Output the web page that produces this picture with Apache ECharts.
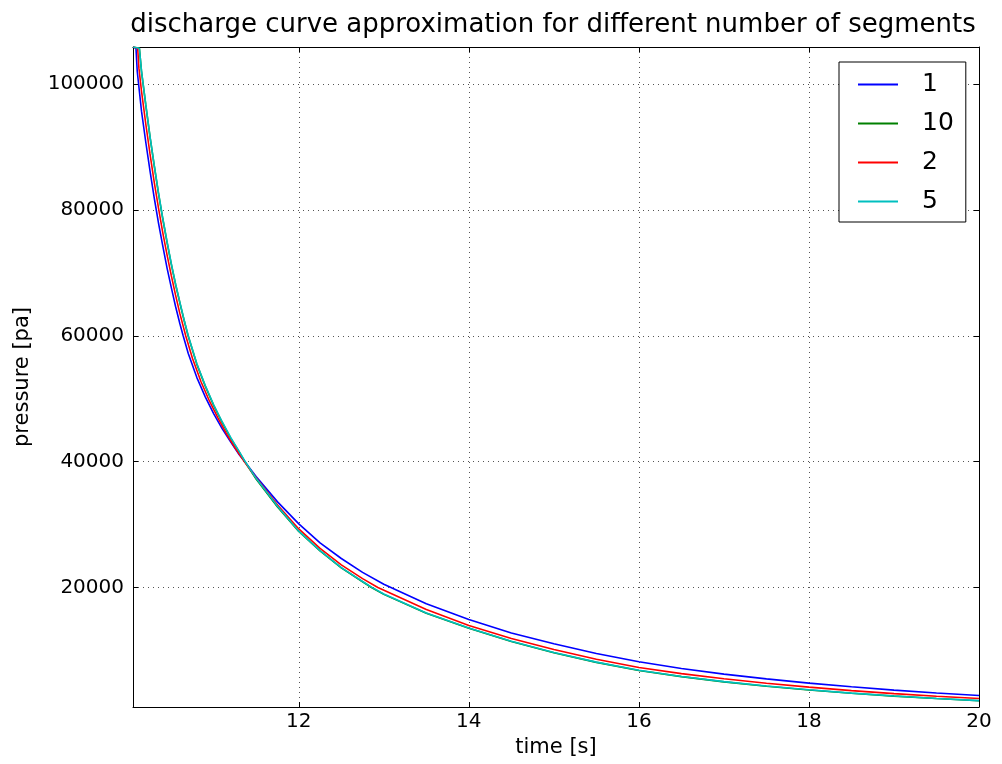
<!DOCTYPE html>
<html>
<head>
<meta charset="utf-8">
<script src="https://cdn.jsdelivr.net/npm/echarts@6/dist/echarts.min.js"></script>
<style>
html,body{margin:0;padding:0;background:#fff;}
#chart{width:1002px;height:764px;}
</style>
</head>
<body>
<div id="chart"></div>
<script>
var chartTitle = 'discharge curve approximation for different number of segments';
var xName = 'time [s]';
var yName = 'pressure [pa]';
var seriesNames = ['1', '10', '2', '5'];
var xTicks = [12, 14, 16, 18, 20];
var yTicks = [20000, 40000, 60000, 80000, 100000];

var t1 = [10.05, 10.085, 10.1, 10.15, 10.2, 10.25, 10.3, 10.35, 10.4, 10.45, 10.5, 10.55, 10.6, 10.64,
  10.7, 10.8, 10.9, 11.0, 11.1, 11.2, 11.3, 11.365, 11.5, 11.75, 12.0, 12.25, 12.5, 12.75, 13.0,
  13.5, 14, 14.5, 15, 15.5, 16, 16.5, 17, 17.5, 18, 18.5, 19, 19.5, 20];
var p1 = [105900, 105700, 102000, 95700, 90800, 86200, 81900, 77900, 74300, 70800, 67700, 64700, 62000, 60000,
  57200, 53400, 50300, 47600, 45200, 43100, 41100, 40000, 37600, 33600, 30100, 27100, 24600, 22400, 20500,
  17400, 14900, 12760, 11040, 9500, 8200, 7120, 6230, 5470, 4800, 4210, 3680, 3230, 2830];

var t10 = [10.05, 10.125, 10.15, 10.2, 10.25, 10.3, 10.35, 10.4, 10.45, 10.5, 10.55, 10.6, 10.65, 10.698,
  10.8, 10.9, 11.0, 11.1, 11.2, 11.3, 11.365, 11.5, 11.75, 12.0, 12.25, 12.5, 12.75, 12.855,
  13.0, 13.5, 14, 14.5, 15, 15.5, 16, 16.5, 17, 17.5, 18, 18.5, 19, 19.5, 20];
var p10 = [105900, 105700, 102000, 96700, 91600, 87000, 82600, 78600, 74900, 71400, 68200, 65300, 62500, 60000,
  55500, 52000, 48900, 46200, 43700, 41500, 40000, 37200, 32800, 28900, 25800, 23100, 20900, 20000,
  18900, 15900, 13500, 11400, 9620, 8090, 6800, 5830, 5000, 4300, 3700, 3180, 2730, 2340, 1990];

var t2 = [10.05, 10.105, 10.12, 10.15, 10.2, 10.25, 10.3, 10.35, 10.4, 10.45, 10.5, 10.55, 10.6, 10.67,
  10.75, 10.85, 10.95, 11.05, 11.15, 11.25, 11.365, 11.5, 11.75, 12.0, 12.25, 12.5, 12.75, 12.93,
  13.5, 14, 14.5, 15, 15.5, 16, 16.5, 17, 17.5, 18, 18.5, 19, 19.5, 20];
var p2 = [105900, 105700, 102500, 98900, 93700, 88900, 84400, 80300, 76400, 72900, 69600, 66500, 63600, 60000,
  56400, 52700, 49600, 46900, 44400, 42200, 39900, 37400, 33100, 29300, 26200, 23600, 21400, 20000,
  16500, 13950, 11900, 10150, 8600, 7280, 6300, 5480, 4770, 4160, 3610, 3130, 2720, 2350];

var t5 = [10.05, 10.125, 10.15, 10.2, 10.25, 10.3, 10.35, 10.4, 10.45, 10.5, 10.55, 10.6, 10.65, 10.698,
  10.8, 10.9, 11.0, 11.1, 11.2, 11.3, 11.365, 11.5, 11.75, 12.0, 12.25, 12.5, 12.75, 12.855,
  13.0, 13.5, 14, 14.5, 15, 15.5, 16, 16.5, 17, 17.5, 18, 18.5, 19, 19.5, 20];
var p5 = [105900, 105700, 102100, 96800, 91700, 87100, 82700, 78700, 75000, 71500, 68300, 65400, 62600, 60100,
  55600, 52100, 49000, 46300, 43800, 41600, 40100, 37300, 32900, 28950, 25850, 23150, 20950, 20050,
  18950, 15950, 13550, 11450, 9660, 8130, 6840, 5860, 5030, 4330, 3730, 3200, 2750, 2360, 2010];

var colors = ['#0000ff', '#008000', '#ff0000', '#00bfbf'];

function pairs(t, p) { return t.map(function (v, i) { return [v, p[i]]; }); }
var seriesData = [pairs(t1, p1), pairs(t10, p10), pairs(t2, p2), pairs(t5, p5)];

var xMin = 10.05, xMax = 20, yMin = 1000, yMax = 105900;
var font = 'DejaVu Sans';
var plain = function (v) { return String(v); };

var chart = echarts.init(document.getElementById('chart'), null, {renderer: 'canvas'});
var option = {
  animation: false,
  backgroundColor: '#fff',
  textStyle: {fontFamily: font},
  title: {
    text: chartTitle, left: 553, top: 12, textAlign: 'center', padding: 0,
    textStyle: {fontFamily: font, fontSize: 26, fontWeight: 'normal', color: '#000'}
  },
  grid: {left: 133, right: 23, top: 47, bottom: 57, containLabel: false},
  legend: {
    data: seriesNames, orient: 'vertical', left: 839, top: 62,
    backgroundColor: '#fff', borderColor: '#000', borderWidth: 1, borderRadius: 0,
    padding: [10, 12, 8, 19], itemGap: 14, itemWidth: 40, itemHeight: 2,
    icon: 'rect',
    textStyle: {fontFamily: font, fontSize: 25, color: '#000', padding: [0, 0, 0, 19]}
  },
  xAxis: [{
    type: 'value', min: xMin, max: xMax,
    name: xName, nameLocation: 'middle', nameGap: 29,
    nameTextStyle: {fontFamily: font, fontSize: 21, color: '#000', verticalAlign: 'top'},
    axisLine: {show: true, onZero: false, lineStyle: {color: '#000', width: 1}},
    axisTick: {show: true, inside: true, length: 5, customValues: xTicks, lineStyle: {color: '#000'}},
    axisLabel: {show: true, customValues: xTicks, formatter: plain, margin: 5, fontFamily: font, fontSize: 20, color: '#000'},
    splitLine: {show: true, lineStyle: {color: '#555', type: [1, 4], width: 1}}
  }, {
    type: 'value', min: xMin, max: xMax, position: 'top',
    axisLine: {show: true, onZero: false, lineStyle: {color: '#000', width: 1}},
    axisTick: {show: true, inside: true, length: 5, customValues: xTicks, lineStyle: {color: '#000'}},
    axisLabel: {show: false},
    splitLine: {show: false}
  }],
  yAxis: [{
    type: 'value', min: yMin, max: yMax,
    name: yName, nameLocation: 'middle', nameGap: 100,
    nameTextStyle: {fontFamily: font, fontSize: 21, color: '#000'},
    axisLine: {show: true, onZero: false, lineStyle: {color: '#000', width: 1}},
    axisTick: {show: true, inside: true, length: 5, customValues: yTicks, lineStyle: {color: '#000'}},
    axisLabel: {show: true, customValues: yTicks, formatter: plain, margin: 9, fontFamily: font, fontSize: 20, color: '#000'},
    splitLine: {show: true, lineStyle: {color: '#555', type: [1, 4], width: 1}}
  }, {
    type: 'value', min: yMin, max: yMax, position: 'right',
    axisLine: {show: true, onZero: false, lineStyle: {color: '#000', width: 1}},
    axisTick: {show: true, inside: true, length: 5, customValues: yTicks, lineStyle: {color: '#000'}},
    axisLabel: {show: false},
    splitLine: {show: false}
  }],
  series: seriesNames.map(function (n, i) {
    return {
      name: n, type: 'line', data: seriesData[i], xAxisIndex: 0, yAxisIndex: 0,
      showSymbol: false, symbol: 'none', smooth: false,
      color: colors[i], lineStyle: {color: colors[i], width: 1.6}, itemStyle: {color: colors[i]}
    };
  })
};
chart.setOption(option);
</script>
</body>
</html>
